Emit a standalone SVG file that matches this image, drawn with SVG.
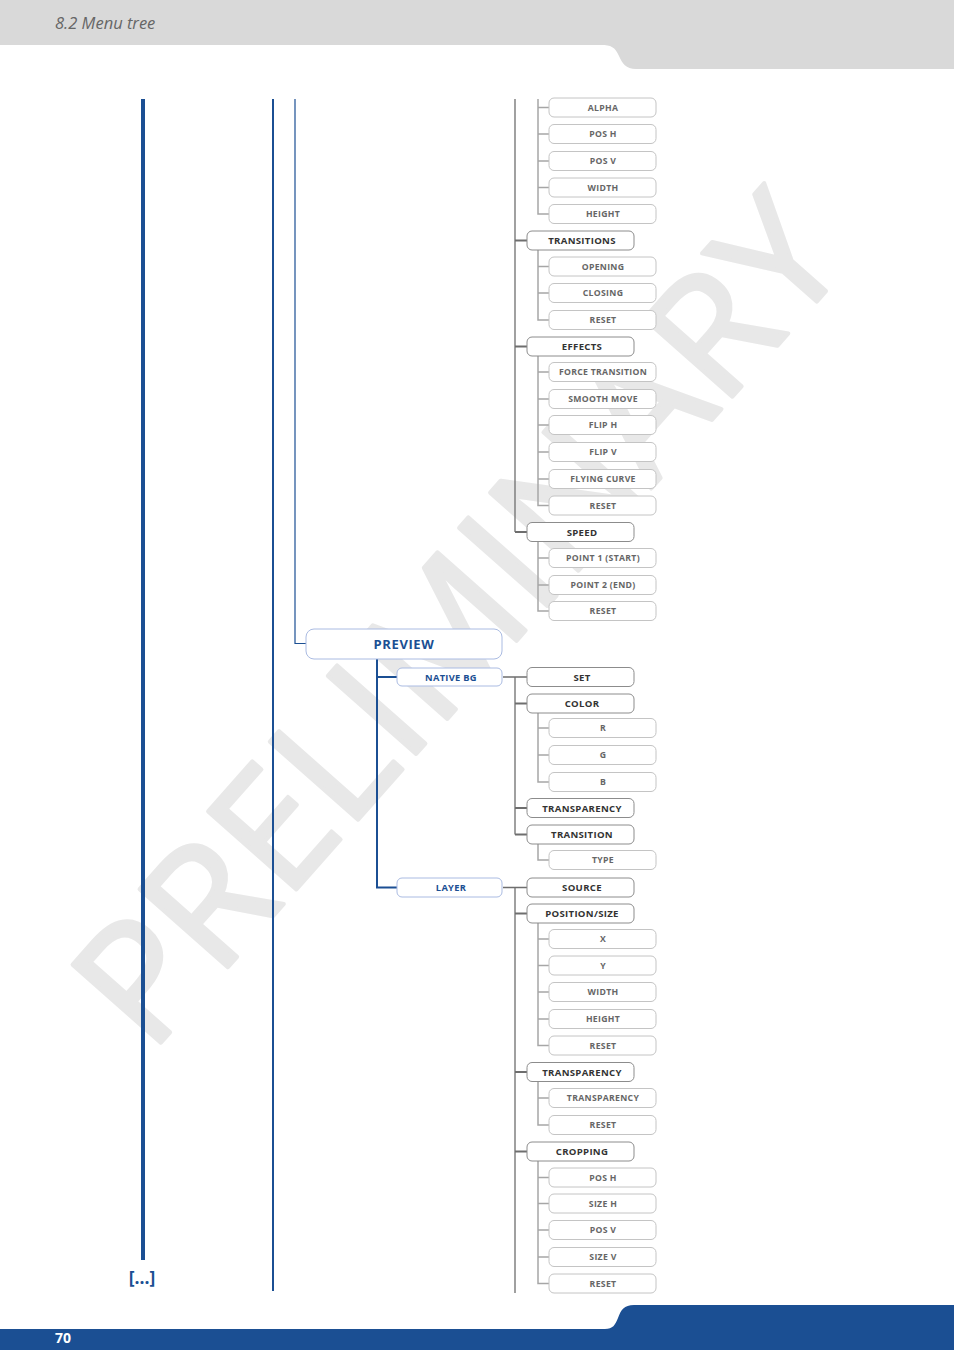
<svg xmlns="http://www.w3.org/2000/svg" width="954" height="1350" viewBox="0 0 954 1350">
<style>
.bg{fill:#ffffff}
.hdr{fill:#d9d9d9}
.ftr{fill:#1b4f93}
.wm{font-family:"Open Sans","DejaVu Sans",sans-serif;font-size:165px;fill:#e8e8e8;stroke:#e8e8e8;stroke-width:4;stroke-linejoin:round}
.l2 rect{fill:#fff;stroke:#8c8c8c;stroke-width:1}
.l3 rect{fill:#fff;stroke:#c4c4c4;stroke-width:1}
.bl rect{fill:#fff;stroke:#aabbe2;stroke-width:1}
.l2 text{font-family:"Open Sans","Liberation Sans",sans-serif;font-weight:700;font-size:9.6px;fill:#333;text-anchor:middle;letter-spacing:0.3px}
.l3 text{font-family:"Open Sans","Liberation Sans",sans-serif;font-weight:700;font-size:8.7px;fill:#666;text-anchor:middle;letter-spacing:0.3px}
.bl text{font-family:"Open Sans","Liberation Sans",sans-serif;font-weight:700;font-size:9.3px;fill:#1b4f93;text-anchor:middle;letter-spacing:0.3px}
.c1{stroke:#6e6e6e;stroke-width:1.3;fill:none}
.c1s{stroke:#6e6e6e;stroke-width:1.8;fill:none}
.c2{stroke:#a6a6a6;stroke-width:1.5;fill:none}
.cb{stroke:#1b4f93;stroke-width:2;fill:none}
</style>
<rect class="bg" x="0" y="0" width="954" height="1350"/>
<text class="wm" transform="translate(150,1055) rotate(-48.5)" x="0" y="0" textLength="1060" lengthAdjust="spacingAndGlyphs">PRELIMINARY</text>
<path class="hdr" d="M0 0 H954 V69 H636 C626 69 622 63 619 56 C615 47 611 45 601 45 H0 Z"/>
<text x="55" y="29" font-family="'Open Sans','Liberation Sans',sans-serif" font-style="italic" font-size="16.5" fill="#666">8.2 Menu tree</text>
<path class="ftr" d="M0 1329 H605 C613 1329 615 1325 618 1318 C621 1310 624 1305 634 1305 H954 V1350 H0 Z"/>
<text x="55" y="1343" font-family="'Open Sans','Liberation Sans',sans-serif" font-weight="700" font-size="14" fill="#fff">70</text>

<g id="connectors">
<line x1="143" y1="99" x2="143" y2="1260" stroke="#1b4f93" stroke-width="4"/>
<line x1="273" y1="99" x2="273" y2="1291" stroke="#1b4f93" stroke-width="2"/>
<path d="M295 99 V643.5 H306" stroke="#1b4f93" stroke-width="1.2" fill="none"/>
<path class="cb" d="M377 659 V887.5 H397 M377 677 H397"/>
<path class="c1" d="M515 99 V532"/>
<path class="c1s" d="M515 240.5 H527 M515 346.5 H527 M515 532 H527"/>
<path class="c1" d="M503 677 H527 M515 677 V834.5"/>
<path class="c1s" d="M515 703.5 H527 M515 808 H527 M515 834.5 H527"/>
<path class="c1" d="M503 887.5 H527 M515 887.5 V1293"/>
<path class="c1s" d="M515 913.5 H527 M515 1072 H527 M515 1151.5 H527"/>
<path class="c2" d="M538 99 V214 H549 M538 107.5 H549 M538 134 H549 M538 161 H549 M538 187.5 H549"/>
<path class="c2" d="M538 250 V320 H549 M538 266.5 H549 M538 293 H549"/>
<path class="c2" d="M538 356 V505.5 H549 M538 372 H549 M538 399 H549 M538 425 H549 M538 452 H549 M538 479 H549"/>
<path class="c2" d="M538 541.5 V611 H549 M538 558 H549 M538 585 H549"/>
<path class="c2" d="M538 713 V782 H549 M538 728 H549 M538 755 H549"/>
<path class="c2" d="M538 844 V860 H549"/>
<path class="c2" d="M538 923 V1045.5 H549 M538 939 H549 M538 965.5 H549 M538 992 H549 M538 1019 H549"/>
<path class="c2" d="M538 1081.5 V1125 H549 M538 1098 H549"/>
<path class="c2" d="M538 1161 V1283.5 H549 M538 1177.5 H549 M538 1203.5 H549 M538 1230 H549 M538 1257 H549"/>
</g>

<text x="142" y="1284" font-family="'Open Sans','Liberation Sans',sans-serif" font-weight="700" font-size="17.5" fill="#1b4f93" text-anchor="middle">[...]</text>

<g id="n-alpha" class="l3"><rect x="549" y="98" width="107" height="19" rx="5"/><text x="603" y="110.5">ALPHA</text></g>
<g id="n-posh1" class="l3"><rect x="549" y="124.5" width="107" height="19" rx="5"/><text x="603" y="137">POS H</text></g>
<g id="n-posv1" class="l3"><rect x="549" y="151.5" width="107" height="19" rx="5"/><text x="603" y="164">POS V</text></g>
<g id="n-width1" class="l3"><rect x="549" y="178" width="107" height="19" rx="5"/><text x="603" y="190.5">WIDTH</text></g>
<g id="n-height1" class="l3"><rect x="549" y="204.5" width="107" height="19" rx="5"/><text x="603" y="217">HEIGHT</text></g>

<g id="n-transitions" class="l2"><rect x="527" y="231" width="107" height="19" rx="5"/><text x="582" y="244">TRANSITIONS</text></g>
<g id="n-opening" class="l3"><rect x="549" y="257" width="107" height="19" rx="5"/><text x="603" y="269.5">OPENING</text></g>
<g id="n-closing" class="l3"><rect x="549" y="283.5" width="107" height="19" rx="5"/><text x="603" y="296">CLOSING</text></g>
<g id="n-reset1" class="l3"><rect x="549" y="310.5" width="107" height="19" rx="5"/><text x="603" y="323">RESET</text></g>

<g id="n-effects" class="l2"><rect x="527" y="337" width="107" height="19" rx="5"/><text x="582" y="350">EFFECTS</text></g>
<g id="n-force" class="l3"><rect x="549" y="362.5" width="107" height="19" rx="5"/><text x="603" y="375">FORCE TRANSITION</text></g>
<g id="n-smooth" class="l3"><rect x="549" y="389.5" width="107" height="19" rx="5"/><text x="603" y="402">SMOOTH MOVE</text></g>
<g id="n-fliph" class="l3"><rect x="549" y="415.5" width="107" height="19" rx="5"/><text x="603" y="428">FLIP H</text></g>
<g id="n-flipv" class="l3"><rect x="549" y="442.5" width="107" height="19" rx="5"/><text x="603" y="455">FLIP V</text></g>
<g id="n-flying" class="l3"><rect x="549" y="469.5" width="107" height="19" rx="5"/><text x="603" y="482">FLYING CURVE</text></g>
<g id="n-reset2" class="l3"><rect x="549" y="496" width="107" height="19" rx="5"/><text x="603" y="508.5">RESET</text></g>

<g id="n-speed" class="l2"><rect x="527" y="522.5" width="107" height="19" rx="5"/><text x="582" y="535.5">SPEED</text></g>
<g id="n-point1" class="l3"><rect x="549" y="548.5" width="107" height="19" rx="5"/><text x="603" y="561">POINT 1 (START)</text></g>
<g id="n-point2" class="l3"><rect x="549" y="575.5" width="107" height="19" rx="5"/><text x="603" y="588">POINT 2 (END)</text></g>
<g id="n-reset3" class="l3"><rect x="549" y="601.5" width="107" height="19" rx="5"/><text x="603" y="614">RESET</text></g>

<g id="n-preview" class="bl"><rect x="306" y="629" width="196" height="30" rx="8"/><text x="404" y="648.5" style="font-size:13px;letter-spacing:0.6px">PREVIEW</text></g>
<g id="n-nativebg" class="bl"><rect x="397" y="668" width="105" height="18" rx="5"/><text x="451" y="680.5">NATIVE BG</text></g>
<g id="n-layer" class="bl"><rect x="397" y="878" width="105" height="19" rx="5"/><text x="451" y="891">LAYER</text></g>

<g id="n-set" class="l2"><rect x="527" y="667.5" width="107" height="19" rx="5"/><text x="582" y="680.5">SET</text></g>
<g id="n-color" class="l2"><rect x="527" y="694" width="107" height="19" rx="5"/><text x="582" y="707">COLOR</text></g>
<g id="n-r" class="l3"><rect x="549" y="718.5" width="107" height="19" rx="5"/><text x="603" y="731">R</text></g>
<g id="n-g" class="l3"><rect x="549" y="745.5" width="107" height="19" rx="5"/><text x="603" y="758">G</text></g>
<g id="n-b" class="l3"><rect x="549" y="772.5" width="107" height="19" rx="5"/><text x="603" y="785">B</text></g>
<g id="n-transp1" class="l2"><rect x="527" y="798.5" width="107" height="19" rx="5"/><text x="582" y="811.5">TRANSPARENCY</text></g>
<g id="n-transition" class="l2"><rect x="527" y="825" width="107" height="19" rx="5"/><text x="582" y="838">TRANSITION</text></g>
<g id="n-type" class="l3"><rect x="549" y="850.5" width="107" height="19" rx="5"/><text x="603" y="863">TYPE</text></g>

<g id="n-source" class="l2"><rect x="527" y="878" width="107" height="19" rx="5"/><text x="582" y="891">SOURCE</text></g>
<g id="n-possize" class="l2"><rect x="527" y="904" width="107" height="19" rx="5"/><text x="582" y="917">POSITION/SIZE</text></g>
<g id="n-x" class="l3"><rect x="549" y="929.5" width="107" height="19" rx="5"/><text x="603" y="942">X</text></g>
<g id="n-y" class="l3"><rect x="549" y="956" width="107" height="19" rx="5"/><text x="603" y="968.5">Y</text></g>
<g id="n-width2" class="l3"><rect x="549" y="982.5" width="107" height="19" rx="5"/><text x="603" y="995">WIDTH</text></g>
<g id="n-height2" class="l3"><rect x="549" y="1009.5" width="107" height="19" rx="5"/><text x="603" y="1022">HEIGHT</text></g>
<g id="n-reset4" class="l3"><rect x="549" y="1036" width="107" height="19" rx="5"/><text x="603" y="1048.5">RESET</text></g>
<g id="n-transp2" class="l2"><rect x="527" y="1062.5" width="107" height="19" rx="5"/><text x="582" y="1075.5">TRANSPARENCY</text></g>
<g id="n-transp3" class="l3"><rect x="549" y="1088.5" width="107" height="19" rx="5"/><text x="603" y="1101">TRANSPARENCY</text></g>
<g id="n-reset5" class="l3"><rect x="549" y="1115.5" width="107" height="19" rx="5"/><text x="603" y="1128">RESET</text></g>
<g id="n-cropping" class="l2"><rect x="527" y="1142" width="107" height="19" rx="5"/><text x="582" y="1155">CROPPING</text></g>
<g id="n-posh2" class="l3"><rect x="549" y="1168" width="107" height="19" rx="5"/><text x="603" y="1180.5">POS H</text></g>
<g id="n-sizeh" class="l3"><rect x="549" y="1194" width="107" height="19" rx="5"/><text x="603" y="1206.5">SIZE H</text></g>
<g id="n-posv2" class="l3"><rect x="549" y="1220.5" width="107" height="19" rx="5"/><text x="603" y="1233">POS V</text></g>
<g id="n-sizev" class="l3"><rect x="549" y="1247.5" width="107" height="19" rx="5"/><text x="603" y="1260">SIZE V</text></g>
<g id="n-reset6" class="l3"><rect x="549" y="1274" width="107" height="19" rx="5"/><text x="603" y="1286.5">RESET</text></g>
</svg>
